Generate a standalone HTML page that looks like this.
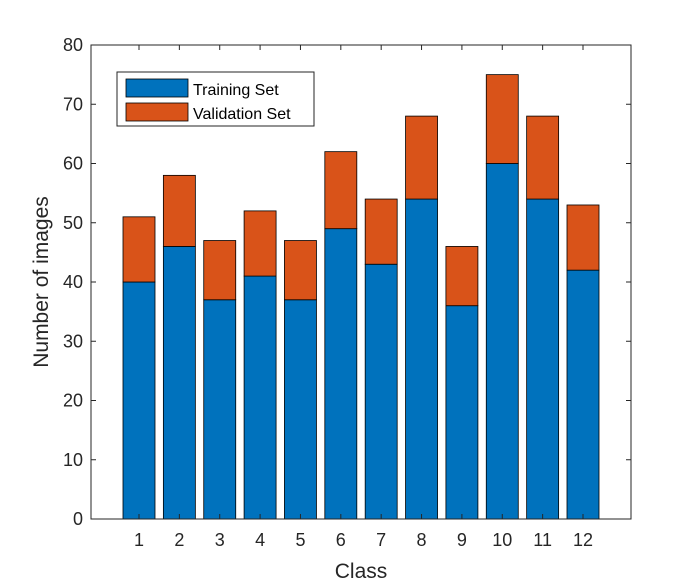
<!DOCTYPE html>
<html><head><meta charset="utf-8"><style>
body{margin:0;background:#fff;}
svg{display:block;font-family:"Liberation Sans",sans-serif;}
</style></head><body>
<svg id="chart" width="698" height="583">
<rect x="0" y="0" width="698" height="583" fill="#fff"/>
<g id="bars"></g>
<g id="axes"></g>
</svg>
<script>
const categories=["1","2","3","4","5","6","7","8","9","10","11","12"];
const trainingValues=[40,46,37,41,37,49,43,54,36,60,54,42];
const validationValues=[11,12,10,11,10,13,11,14,10,15,14,11];
const yTicks=[0,10,20,30,40,50,60,70,80];
const NS="http://www.w3.org/2000/svg";
const L=91,R=631,T=45,B=519,yMax=80;
function yScale(v){return B-(v/yMax)*(B-T);}
function xScale(i){return 139+i*((583-139)/11);}
const bw=32;
function mk(tag,attrs,parent,text){const e=document.createElementNS(NS,tag);for(const k in attrs)e.setAttribute(k,attrs[k]);if(text!==undefined)e.textContent=text;parent.appendChild(e);return e;}
const svg=document.getElementById('chart');
const bars=document.getElementById('bars');
const axes=document.getElementById('axes');
mk('rect',{x:L,y:T,width:R-L,height:B-T,fill:'#fff',stroke:'none'},bars);
categories.forEach((c,i)=>{
  const x=xScale(i)-bw/2;
  const t=trainingValues[i],v=validationValues[i];
  const r1=mk('rect',{x:x,y:yScale(t),width:bw,height:yScale(0)-yScale(t),fill:'#0072BD',stroke:'#000','stroke-width':0.8},bars);
  
  
  const r2=mk('rect',{x:x,y:yScale(t+v),width:bw,height:yScale(t)-yScale(t+v),fill:'#D95319',stroke:'#000','stroke-width':0.8},bars);
  
  
});
const frame=mk('rect',{x:L,y:T,width:R-L,height:B-T,fill:'none',stroke:'#262626','stroke-width':1},axes);


yTicks.forEach(v=>{
  const y=yScale(v);
  mk('line',{x1:L,x2:L+5,y1:y,y2:y,stroke:'#262626'},axes);
  mk('line',{x1:R,x2:R-5,y1:y,y2:y,stroke:'#262626'},axes);
  const t=mk('text',{x:L-8,y:y+6,'text-anchor':'end','font-size':18,fill:'#262626'},axes,String(v));
  
  
});
categories.forEach((c,i)=>{
  const x=xScale(i);
  mk('line',{x1:x,x2:x,y1:B,y2:B-5,stroke:'#262626'},axes);
  mk('line',{x1:x,x2:x,y1:T,y2:T+5,stroke:'#262626'},axes);
  const t=mk('text',{x:x,y:B+27,'text-anchor':'middle','font-size':18,fill:'#262626'},axes,c);
  
  
});
</script>
<svg width="698" height="583" style="position:absolute;left:0;top:0;font-family:'Liberation Sans',sans-serif">
<text x="361" y="578" text-anchor="middle" font-size="21" fill="#262626">Class</text>
<text transform="translate(48,282) rotate(-90)" text-anchor="middle" font-size="21" fill="#262626">Number of images</text>
<g>
<rect x="117" y="72" width="197" height="54" fill="#fff" stroke="#262626" stroke-width="1"/>
<rect x="126" y="79" width="62" height="18" fill="#0072BD" stroke="#000" stroke-width="0.8"/>
<text x="193" y="95" font-size="16" fill="#000">Training Set</text>
<rect x="126" y="103" width="62" height="18" fill="#D95319" stroke="#000" stroke-width="0.8"/>
<text x="193" y="119" font-size="16" fill="#000">Validation Set</text>
</g>
</svg>
</body></html>
